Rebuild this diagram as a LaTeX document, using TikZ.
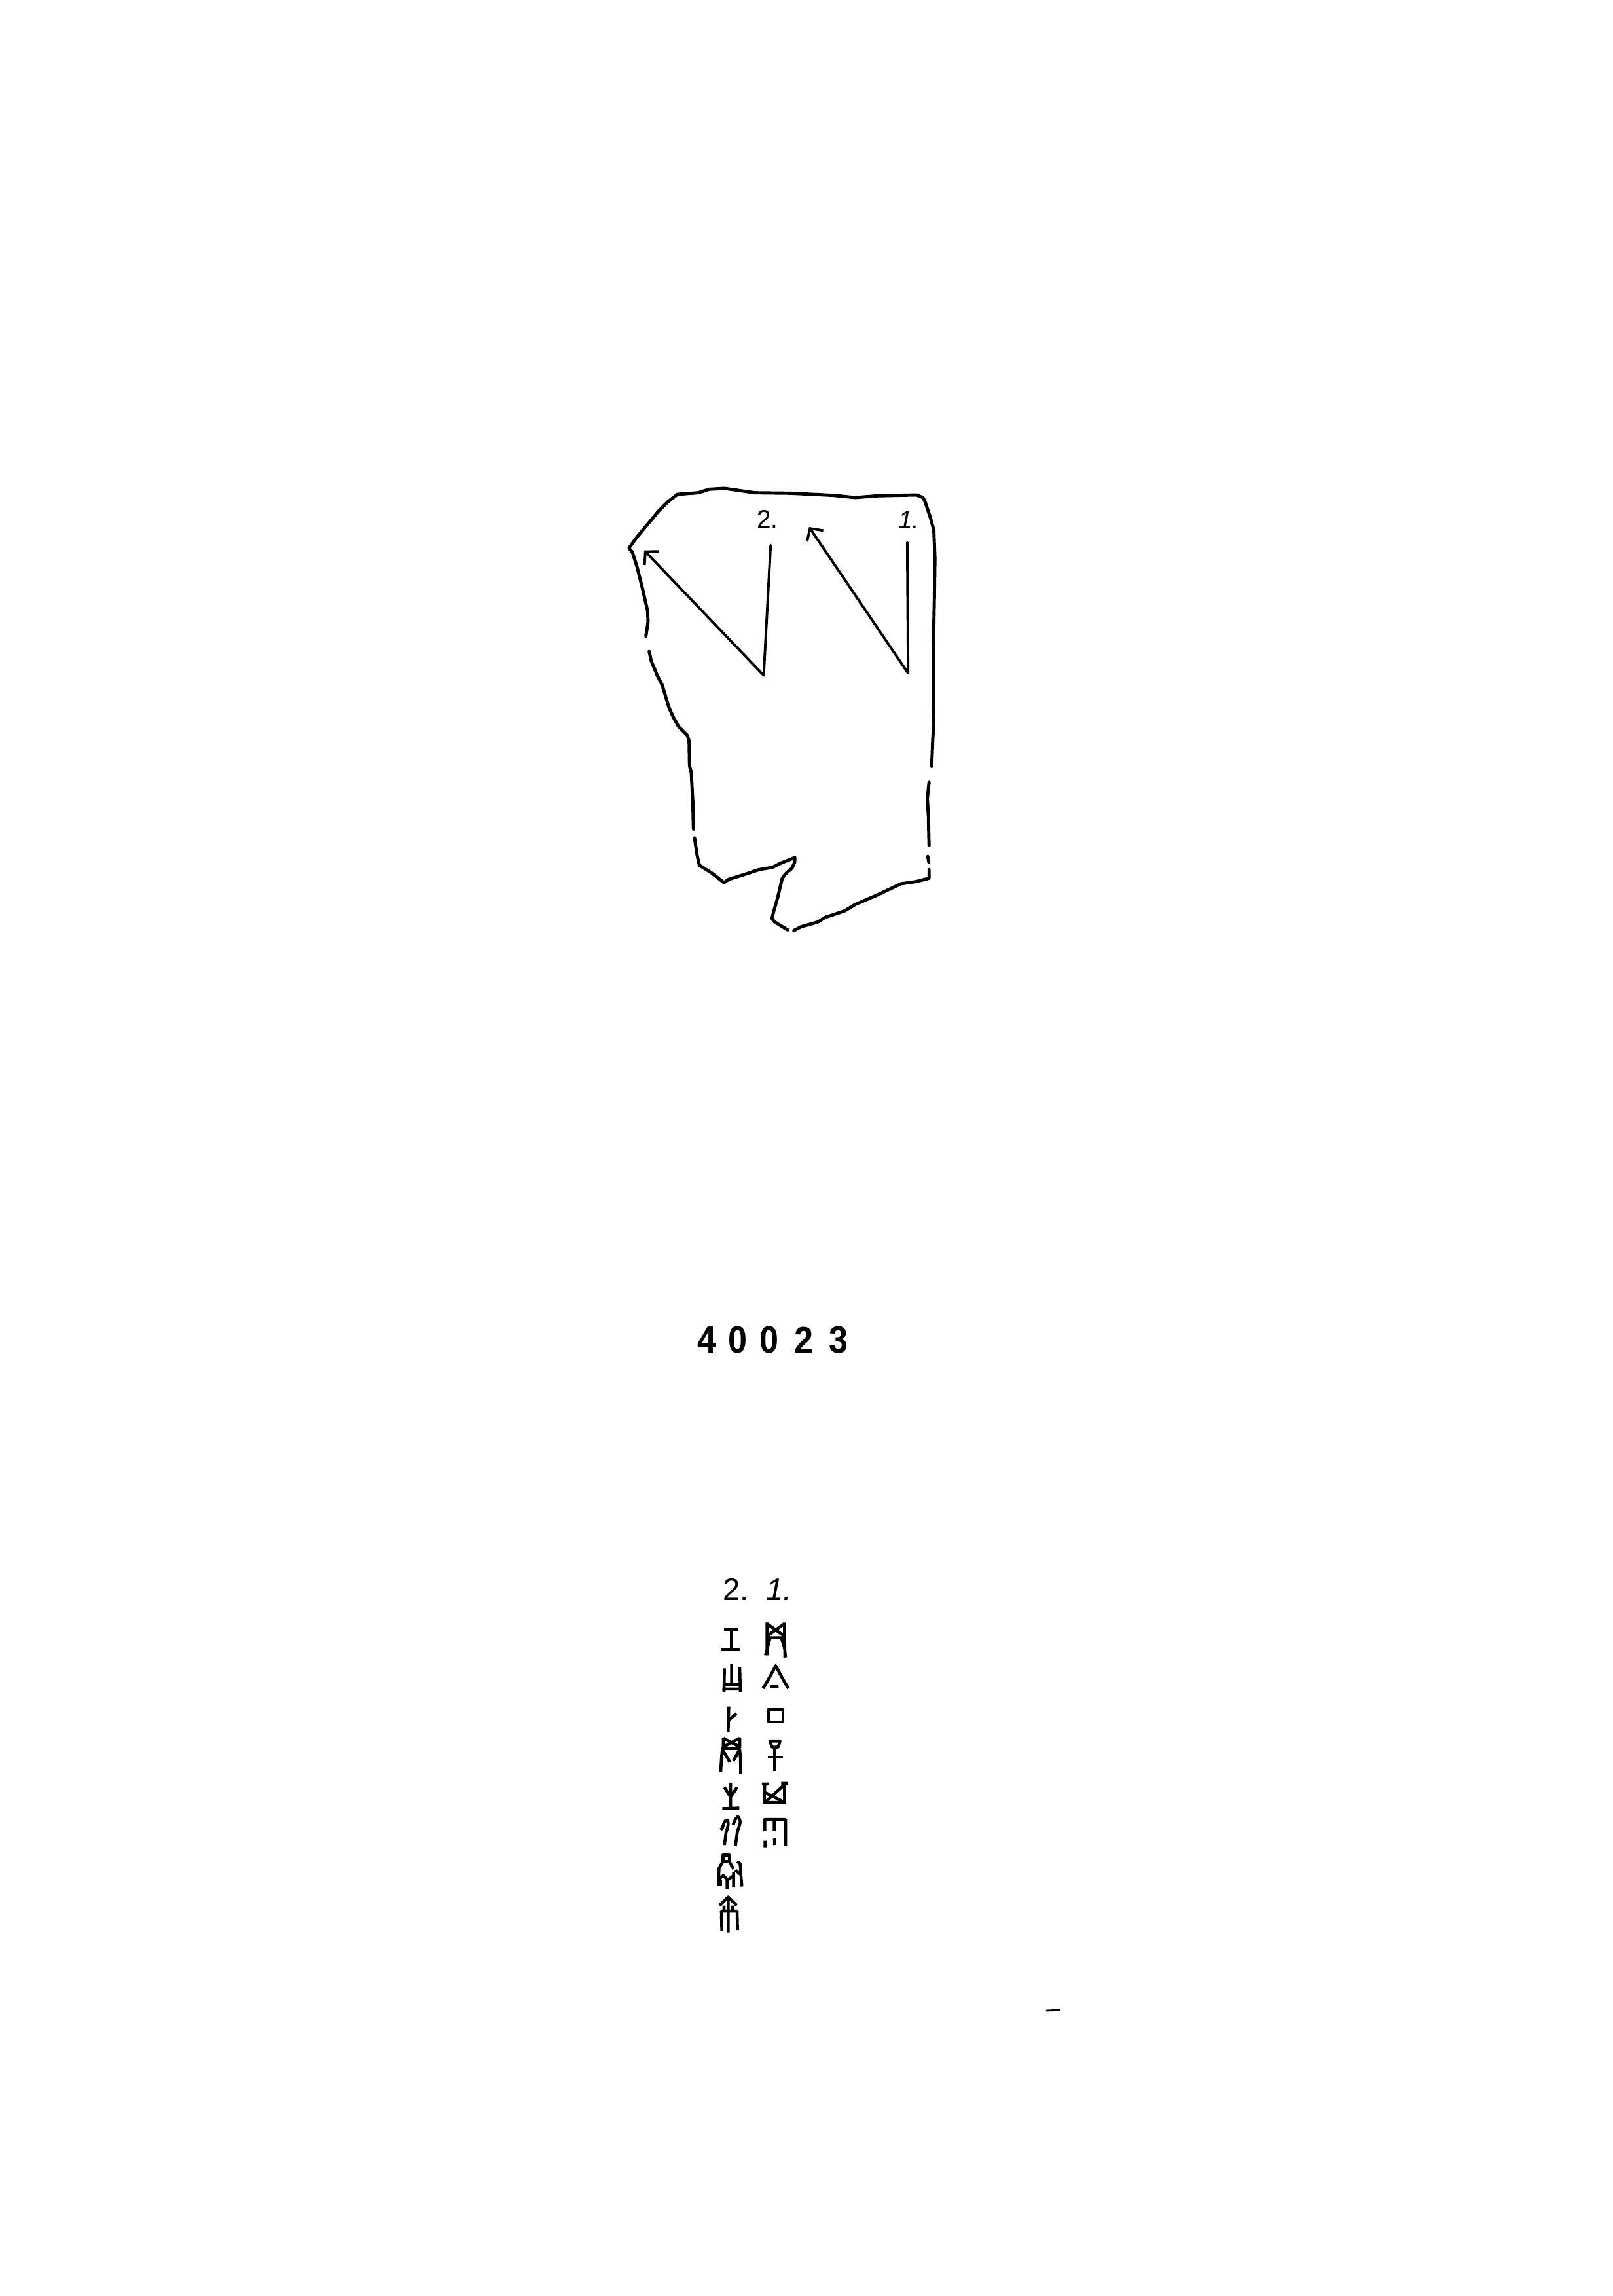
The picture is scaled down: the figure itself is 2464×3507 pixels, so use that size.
\documentclass[tikz,border=0pt]{standalone}
\usepackage{fontspec}
\setmainfont{Liberation Sans}
\usetikzlibrary{arrows.meta}
\begin{document}
\begin{tikzpicture}[x=0.1mm,y=-0.1mm,
  outline/.style={line width=1.4pt, line cap=round, line join=round},
  arrowline/.style={line width=1.1pt, line cap=round, line join=round,
    -{Straight Barb[length=1.4mm,width=3mm,line width=1.1pt]}},
  glyph/.style={line width=1.3pt, line cap=butt, line join=round},
  lab/.style={font=\fontsize{11}{12}\selectfont, inner sep=0pt},
  lab2/.style={font=\fontsize{13.5}{15}\selectfont, inner sep=0pt},
  digit/.style={font=\fontsize{16.5}{20}\bfseries\selectfont, inner sep=0pt, xscale=0.9}]
\useasboundingbox (0,0) rectangle (2464,3507);
\fill[white] (0,0) rectangle (2464,3507);

% ---------- fragment outline ----------
\begin{scope}[shift={(94mm,-72mm)}, x=0.03333mm, y=-0.03333mm]
  \draw[outline] (140,755) -- (150,690) -- (148,640) -- (125,540) -- (100,440)
     -- (78,370) -- (62,352) -- (100,300) -- (150,240) -- (200,180) -- (240,140)
     -- (285,105) -- (380,98) -- (430,82) -- (500,78) -- (640,98) -- (800,100)
     -- (1000,110) -- (1100,120) -- (1200,112) -- (1380,108) -- (1410,120)
     -- (1420,140) -- (1445,215) -- (1460,270) -- (1465,400) -- (1462,600)
     -- (1458,800) -- (1458,1080) -- (1460,1140) -- (1455,1230) -- (1450,1352);
  \draw[outline] (1438,1425) -- (1430,1500) -- (1435,1580) -- (1438,1715);
  \draw[outline] (1432,1765) -- (1437,1792);
  \draw[outline] (1438,1825) -- (1438,1865) -- (1380,1880) -- (1310,1890)
     -- (1200,1942) -- (1100,1985) -- (1050,2015) -- (960,2045) -- (930,2065)
     -- (850,2088) -- (818,2105);
  \draw[outline] (790,2102) -- (730,2065) -- (718,2050) -- (725,2020)
     -- (745,1950) -- (765,1865) -- (780,1845) -- (810,1818) -- (822,1792)
     -- (823,1770) -- (760,1795) -- (720,1815) -- (660,1825) -- (600,1845)
     -- (520,1870) -- (498,1885) -- (440,1840) -- (385,1805) -- (375,1760)
     -- (363,1680);
  \draw[outline] (358,1640) -- (355,1510) -- (348,1380) -- (340,1350)
     -- (338,1235) -- (330,1210) -- (290,1170) -- (265,1125) -- (245,1080)
     -- (230,1030) -- (215,980) -- (190,930) -- (165,870) -- (155,825);

  % arrows
  \coordinate (a2top) at (712,338);
  \coordinate (a2v) at (680,935);
  \coordinate (a2tip) at (132,362);
  \coordinate (a1top) at (1338,325);
  \coordinate (a1v) at (1342,925);
  \coordinate (a1tip) at (888,255);
  \draw[arrowline] (a2top) -- (a2v) -- (a2tip);
  \draw[arrowline] (a1top) -- (a1v) -- (a1tip);

  \node[lab] (l2) at (697,220) {2.};
  \node[lab] (l1) at (1345,222) {\textit{1.}};
\end{scope}

% ---------- number ----------
\node[digit] (d1) at (1080,2047) {4};
\node[digit] (d2) at (1127,2047) {0};
\node[digit] (d3) at (1175,2047) {0};
\node[digit] (d4) at (1228,2047) {2};
\node[digit] (d5) at (1281,2047) {3};

% ---------- transcription ----------
\begin{scope}[shift={(107mm,-238mm)}, x=0.03333mm, y=-0.03333mm]
  \node[lab2] (t2) at (162,143) {2.};
  \node[lab2] (t1) at (360,145) {\textit{1.}};

  % left column (2.)
  % G1
  \draw[glyph] (108,325) -- (175,325) (142,325) -- (142,418) (97,418) -- (180,418);
  % G2
  \draw[glyph] (143,485) -- (143,578) (110,505) -- (108,612) (180,500) -- (183,612)
     (108,578) -- (183,578) (100,600) -- (190,600);
  % G3
  \draw[glyph] (130,680) -- (127,795) (130,742) -- (165,712);
  % G4
  \draw[glyph] (105,822) -- (105,870) (180,822) -- (180,870)
     (105,825) -- (180,865) (180,825) -- (105,865)
     (95,872) -- (185,872)
     (100,878) .. controls (96,920) .. (93,980)
     (180,878) .. controls (184,920) .. (184,988)
     (103,882) .. controls (118,905) .. (135,935)
     (177,882) .. controls (162,905) .. (150,930);
  % G5
  \draw[glyph] (138,1030) -- (138,1145) (110,1050) -- (138,1095) -- (168,1050)
     (100,1148) -- (178,1145);
  % G6
  \draw[glyph] (92,1245) -- (100,1238) (100,1240) .. controls (110,1205) .. (122,1200)
     .. controls (130,1215) .. (117,1260) -- (110,1315);
  \draw[glyph] (150,1222) .. controls (160,1195) .. (172,1185)
     .. controls (186,1205) .. (170,1250) -- (160,1320);
  % G7
  \draw[glyph] (103,1360) rectangle (132,1390);
  \draw[glyph] (103,1390) -- (85,1422) -- (83,1500) (132,1390) -- (152,1425)
     (85,1470) -- (105,1455) -- (125,1475) -- (152,1455)
     (92,1472) -- (92,1500) (122,1475) -- (122,1515) (152,1440) -- (152,1510)
     (168,1390) -- (182,1400) -- (185,1445) -- (190,1505) (160,1430) -- (182,1448);
  % G8
  \draw[glyph] (88,1592) -- (127,1553) -- (166,1592) (127,1553) -- (127,1715)
     (108,1592) -- (108,1618) (148,1592) -- (148,1618)
     (92,1618) -- (170,1618) (96,1618) -- (98,1710) (168,1618) -- (170,1705);

  % right column (1.)
  % R1
  \draw[glyph] (305,295) -- (305,445) (385,295) -- (387,455)
     (305,300) -- (385,358) (385,300) -- (305,358)
     (298,365) -- (392,365)
     (318,370) .. controls (310,400) .. (298,445)
     (372,370) .. controls (385,405) .. (390,455);
  % R2
  \draw[glyph] (287,597) .. controls (315,550) .. (345,493)
     .. controls (375,550) .. (403,597)
     (318,590) -- (358,588);
  % R3
  \draw[glyph] (310,695) rectangle (378,750);
  % R4
  \draw[glyph] (318,838) -- (365,838) -- (356,866) -- (328,866) -- cycle;
  \draw[glyph] (340,866) -- (340,975) (308,912) -- (378,912);
  % R5
  \draw[glyph] (282,1035) -- (312,1035) (295,1035) -- (292,1120) -- (385,1120)
     -- (385,1040) (370,1032) -- (402,1032)
     (298,1075) -- (383,1118) (383,1040) -- (298,1118);
  % R6
  \draw[glyph] (290,1198) -- (393,1198) (295,1198) -- (295,1250) (338,1200) -- (338,1250)
     (390,1198) -- (390,1320) (296,1295) -- (296,1325) (339,1285) -- (340,1315);
\end{scope}

% scan speck
\draw[line width=0.8pt] (1598,3071) -- (1620,3070);
\end{tikzpicture}
\end{document}
